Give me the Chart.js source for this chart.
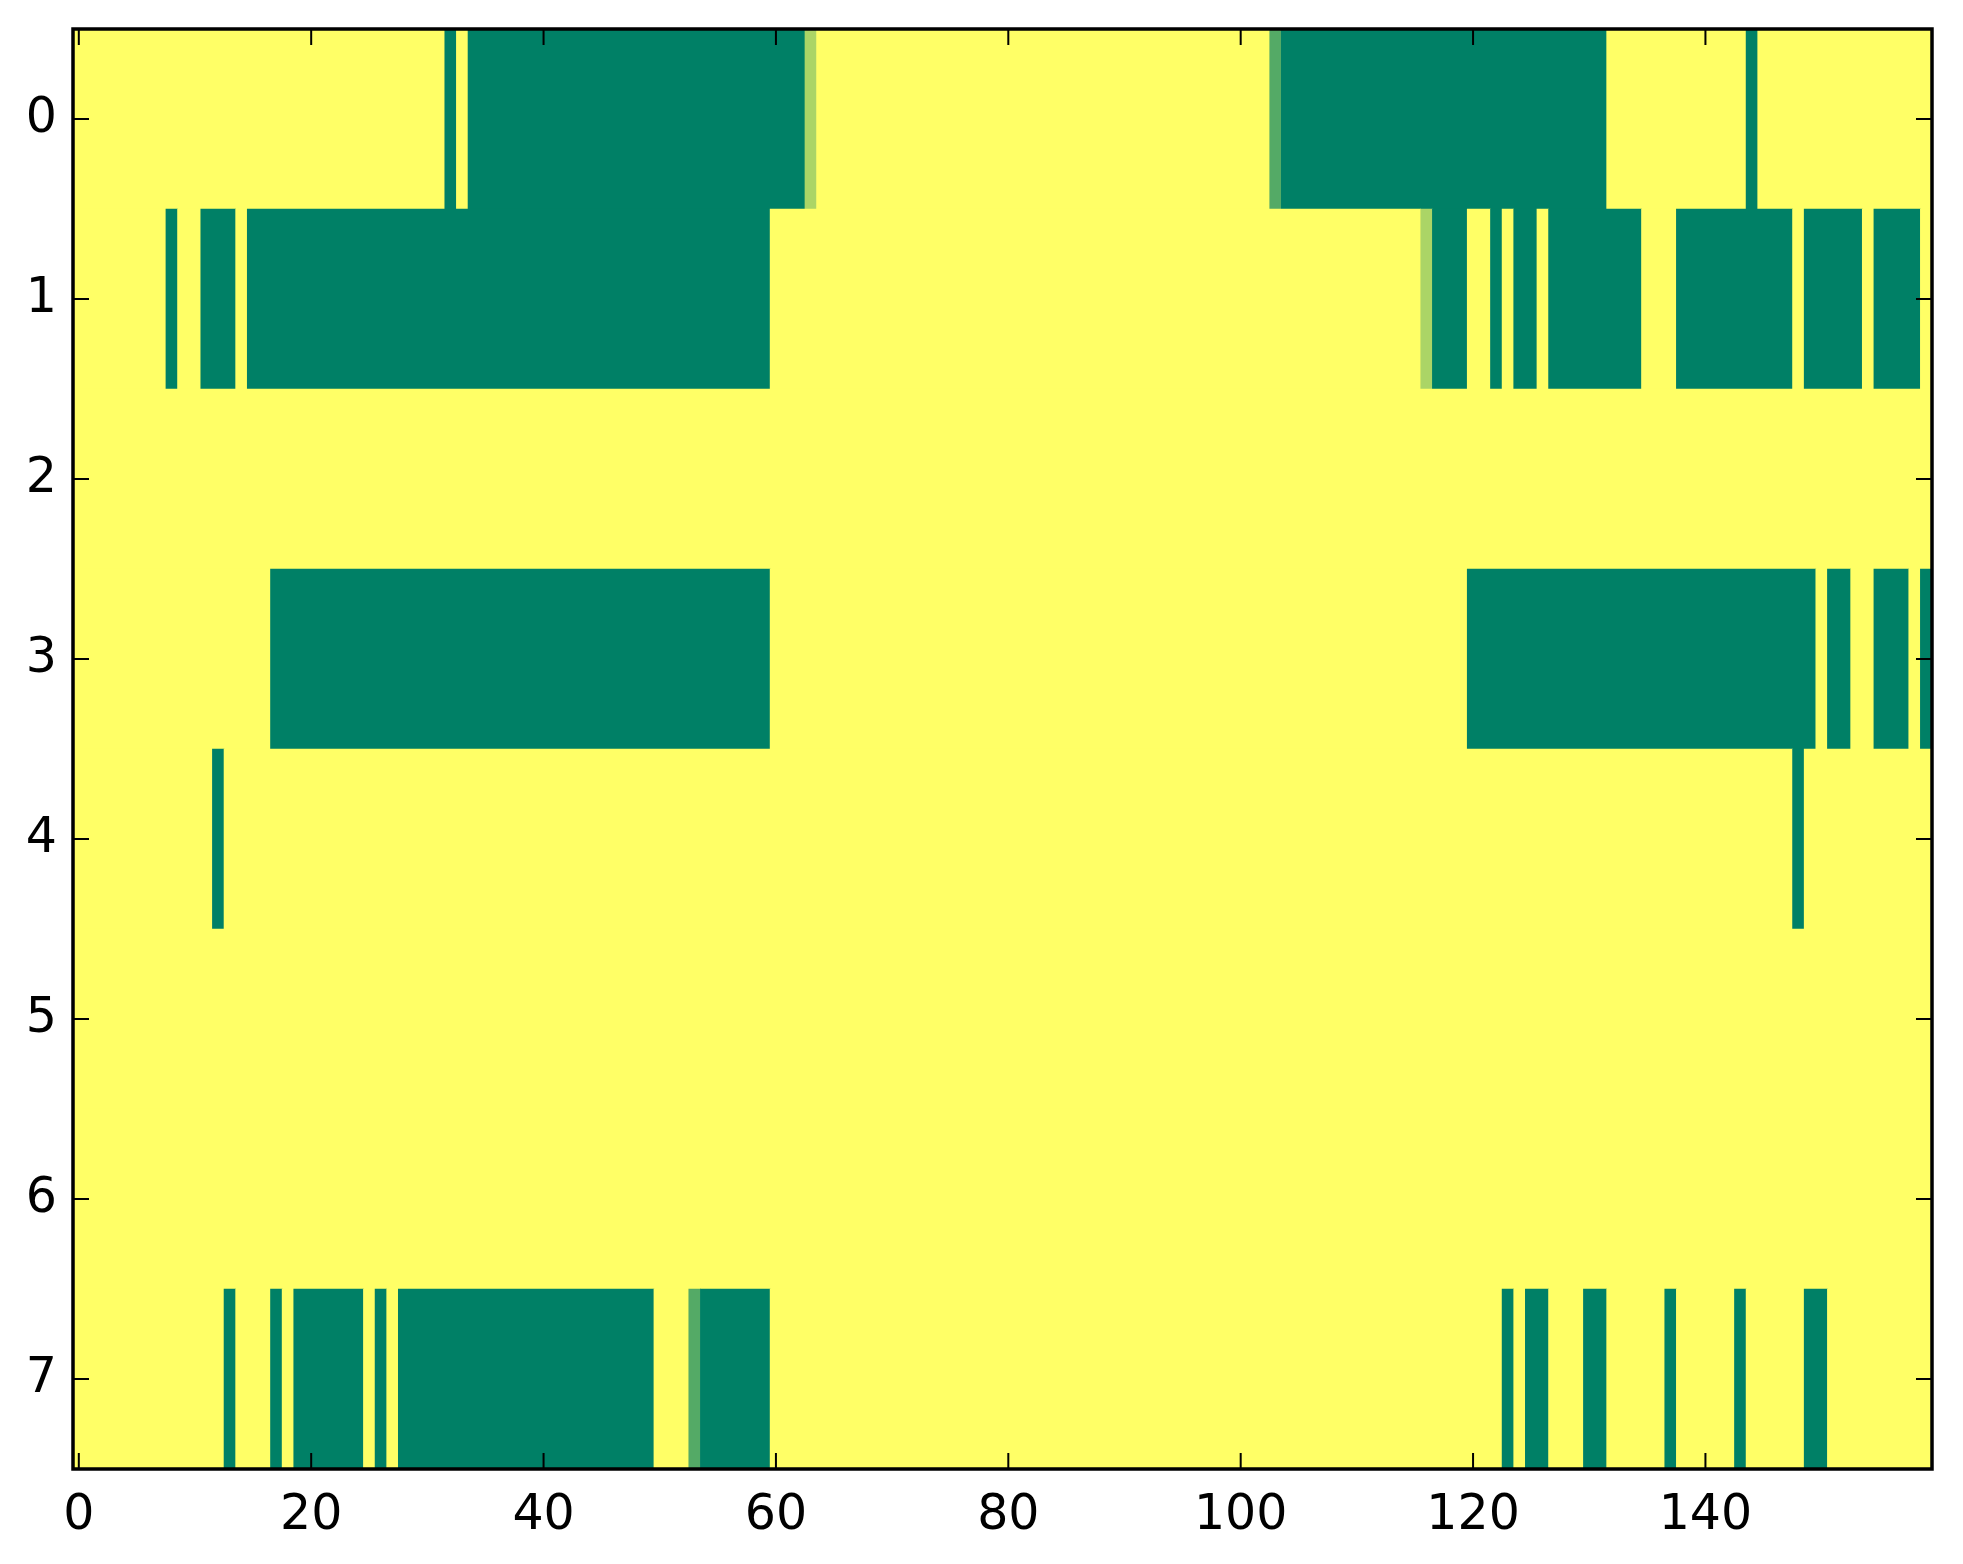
<!DOCTYPE html>
<html>
<head>
<meta charset="utf-8">
<script src="https://cdn.jsdelivr.net/npm/chart.js@4/dist/chart.umd.min.js"></script>
<style>
  html, body { margin: 0; padding: 0; background: #ffffff; }
  canvas { display: block; }
</style>
</head>
<body>
<canvas id="heat" width="1963" height="1564"></canvas>
<script>
// Grid size and tick labels.
const N_COLS = 160;
const ROW_LABELS = [0, 1, 2, 3, 4, 5, 6, 7];
const X_TICKS = [0, 20, 40, 60, 80, 100, 120, 140];

// Cells that are not 1.0 (yellow), per row: [firstCol, lastCol, value].
const row0 = [[32, 32, 0], [34, 62, 0], [63, 63, 0.67], [103, 103, 0.33], [104, 131, 0], [144, 144, 0]];
const row1 = [[8, 8, 0], [11, 13, 0], [15, 59, 0], [116, 116, 0.67], [117, 119, 0], [122, 122, 0],
  [124, 125, 0], [127, 134, 0], [138, 147, 0], [149, 153, 0], [155, 158, 0]];
const row2 = [];
const row3 = [[17, 59, 0], [120, 149, 0], [151, 152, 0], [155, 157, 0], [159, 159, 0]];
const row4 = [[12, 12, 0], [148, 148, 0]];
const row5 = [];
const row6 = [];
const row7 = [[13, 13, 0], [17, 17, 0], [19, 24, 0], [26, 26, 0], [28, 49, 0], [53, 53, 0.33], [54, 59, 0],
  [123, 123, 0], [125, 126, 0], [130, 131, 0], [137, 137, 0], [143, 143, 0], [149, 150, 0]];

const ROWS = [row0, row1, row2, row3, row4, row5, row6, row7];

// matplotlib "summer": green (0) -> yellow (1)
function _summer(v) {
  const r = Math.round(255 * v);
  const g = Math.round(255 * (0.5 + v / 2));
  return `rgb(${r},${g},102)`;
}

// Expand to full rows, then merge equal neighbours into one floating bar each.
function _buildBars() {
  const data = [];
  const colors = [];
  ROWS.forEach((runs, r) => {
    const cells = new Array(N_COLS).fill(1);
    for (const [a, b, v] of runs) {
      for (let c = a; c <= b; c++) cells[c] = v;
    }
    let start = 0;
    for (let c = 1; c <= N_COLS; c++) {
      if (c === N_COLS || cells[c] !== cells[start]) {
        data.push({ x: [start - 0.5, c - 0.5], y: ROW_LABELS[r] });
        colors.push(_summer(cells[start]));
        start = c;
      }
    }
  });
  return { data, colors };
}

// Black frame with inward ticks on all four sides (classic matplotlib look).
const framePlugin = {
  id: 'frame',
  afterDraw(chart) {
    const { ctx, chartArea: a, scales } = chart;
    const tl = 16;
    ctx.save();
    ctx.strokeStyle = '#000';
    ctx.lineWidth = 2;
    ctx.beginPath();
    for (const v of X_TICKS) {
      const px = scales.x.getPixelForValue(v);
      ctx.moveTo(px, a.bottom); ctx.lineTo(px, a.bottom - tl);
      ctx.moveTo(px, a.top); ctx.lineTo(px, a.top + tl);
    }
    for (const v of ROW_LABELS) {
      const py = scales.y.getPixelForValue(v);
      ctx.moveTo(a.left, py); ctx.lineTo(a.left + tl, py);
      ctx.moveTo(a.right, py); ctx.lineTo(a.right - tl, py);
    }
    ctx.stroke();
    ctx.lineWidth = 3.5;
    ctx.strokeRect(a.left, a.top, a.right - a.left, a.bottom - a.top);
    ctx.restore();
  },
};

// Keep the plot box where the reference has it: no label-overflow padding.
function _noPad(s) {
  s.paddingTop = 0;
  s.paddingBottom = 0;
  s.paddingLeft = 0;
  s.paddingRight = 0;
}

const { data, colors } = _buildBars();
const font = { family: '"DejaVu Sans", sans-serif', size: 49 };

new Chart(document.getElementById('heat'), {
  type: 'bar',
  data: {
    datasets: [{
      data,
      backgroundColor: colors,
      borderWidth: 0,
      barPercentage: 1,
      categoryPercentage: 1,
    }],
  },
  options: {
    indexAxis: 'y',
    responsive: false,
    animation: false,
    layout: { padding: { top: 29, right: 31, left: 0, bottom: 0 } },
    plugins: { legend: { display: false }, tooltip: { enabled: false } },
    scales: {
      x: {
        type: 'linear',
        min: -0.5,
        max: N_COLS - 0.5,
        offset: false,
        grid: { display: false, drawTicks: false, offset: false },
        border: { display: false },
        ticks: { font, color: '#000', padding: 18, maxRotation: 0 },
        afterBuildTicks: (s) => { s.ticks = X_TICKS.map((v) => ({ value: v })); },
        afterFit: (s) => { s.height = 95; _noPad(s); },
      },
      y: {
        type: 'linear',
        reverse: true,
        min: -0.5,
        max: ROW_LABELS.length - 0.5,
        offset: false,
        grid: { display: false, drawTicks: false, offset: false },
        border: { display: false },
        ticks: { font, color: '#000', padding: 16 },
        afterBuildTicks: (s) => { s.ticks = ROW_LABELS.map((v) => ({ value: v })); },
        afterFit: (s) => { s.width = 73; _noPad(s); },
      },
    },
  },
  plugins: [framePlugin],
});
</script>
</body>
</html>
